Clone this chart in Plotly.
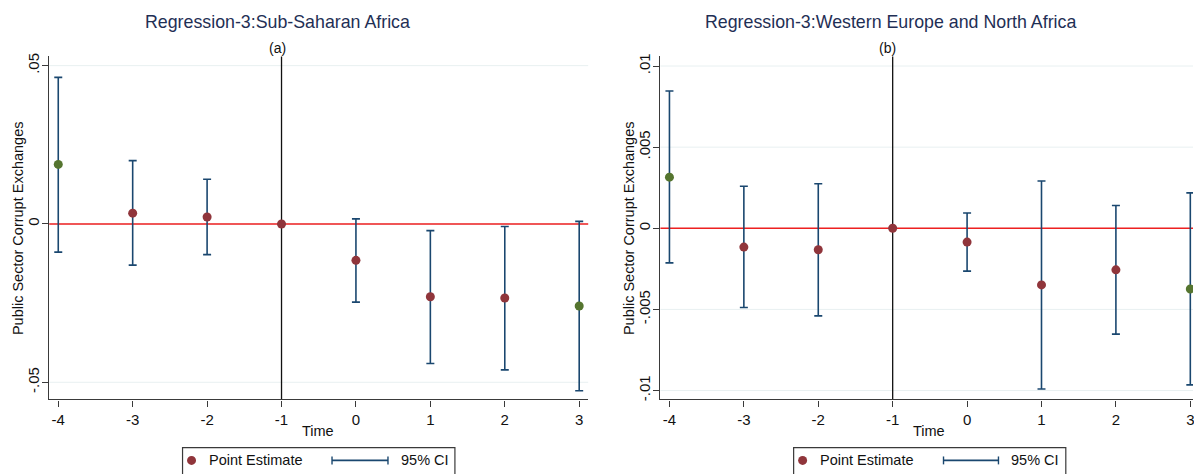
import plotly.graph_objects as go

# Event-study estimates, relative time -4..3 (period -1 is the reference)
periods = [-4, -3, -2, -1, 0, 1, 2, 3]
highlight_periods = [-4, 3]

ssa_est = [0.0188, 0.0034, 0.0022, 0.0, -0.0115, -0.0230, -0.0234, -0.0259]
ssa_lo = [-0.0089, -0.0130, -0.0097, None, -0.0247, -0.0441, -0.0461, -0.0527]
ssa_hi = [0.0463, 0.0200, 0.0141, None, 0.0016, -0.0021, -0.0008, 0.0008]

weu_est = [0.00315, -0.00116, -0.00132, 0.0, -0.00085, -0.00349, -0.00256, -0.00374]
weu_lo = [-0.00213, -0.00488, -0.00540, None, -0.00264, -0.00990, -0.00652, -0.00965]
weu_hi = [0.00846, 0.00259, 0.00274, None, 0.00094, 0.00291, 0.00140, 0.00218]

ssa_ticks = [0.05, 0.0, -0.05]
ssa_ticktext = [".05", "0", "-.05"]
weu_ticks = [0.01, 0.005, 0.0, -0.005, -0.01]
weu_ticktext = [".01", ".005", "0", "-.005", "-.01"]

titles = ["Regression-3:Sub-Saharan Africa", "Regression-3:Western Europe and North Africa"]
subtitles = ["(a)", "(b)"]
y_title = "Public Sector Corrupt Exchanges"
x_title = "Time"
legend_labels = ["Point Estimate", "95% CI"]

NAVY = "#1a476f"
MAROON = "#90353b"
GREEN = "#55752f"
TITLE_BLUE = "#1f2f55"
GRID = "#e8f0f1"
AXIS = "#3a3a3a"
FONT = "Liberation Sans, Arial, Helvetica, sans-serif"

W, H = 1194, 474


def px(x):
    return x / W


def py(y):
    return 1 - y / H


def err_arrays(est, lo, hi):
    up = [None if h is None else h - e for e, h in zip(est, hi)]
    dn = [None if l is None else e - l for e, l in zip(est, lo)]
    return up, dn


point_colors = [GREEN if p in highlight_periods else MAROON for p in periods]

fig = go.Figure()

for i, (est, lo, hi) in enumerate([(ssa_est, ssa_lo, ssa_hi), (weu_est, weu_lo, weu_hi)]):
    up, dn = err_arrays(est, lo, hi)
    fig.add_trace(go.Scatter(
        x=periods, y=est, mode="markers",
        xaxis="x" if i == 0 else "x2", yaxis="y" if i == 0 else "y2",
        marker=dict(color=point_colors, size=9, line=dict(width=0)),
        error_y=dict(type="data", symmetric=False, array=up, arrayminus=dn,
                     color=NAVY, thickness=1.6, width=4),
        showlegend=False, hoverinfo="x+y",
    ))

axis_common = dict(
    showline=True, linecolor=AXIS, linewidth=1.2, ticks="outside", ticklen=6,
    tickcolor=AXIS, tickwidth=1, zeroline=False, mirror=False, showgrid=False,
    tickfont=dict(family=FONT, size=15, color="#111111"),
    ticklabeloverflow="allow",
)

left_x = [49.3, 588.7]
right_x = [661.0, 1194.0]
ydom = [py(400.7), py(54.0)]

fig.update_layout(
    width=W, height=H, autosize=False,
    margin=dict(l=0, r=0, t=0, b=0, pad=0),
    paper_bgcolor="white", plot_bgcolor="white",
    font=dict(family=FONT, color="#111111"),
    showlegend=False,
    xaxis=dict(domain=[px(left_x[0]), px(left_x[1])], range=[-4.121, 3.121],
               tickvals=periods, ticktext=[str(p) for p in periods],
               anchor="y", **axis_common),
    yaxis=dict(domain=ydom, range=[-0.05544, 0.05291], tickvals=ssa_ticks,
               ticktext=ssa_ticktext, tickangle=-90, anchor="x",
               ticklabelstandoff=-3, **axis_common),
    xaxis2=dict(domain=[px(right_x[0]), px(right_x[1])], range=[-4.121, 3.036],
                tickvals=periods, ticktext=[str(p) for p in periods],
                anchor="y2", **axis_common),
    yaxis2=dict(domain=ydom, range=[-0.01055, 0.01059], tickvals=weu_ticks,
                ticktext=weu_ticktext, tickangle=-90, anchor="x2",
                ticklabelstandoff=-3, **axis_common),
)

shapes = []
annotations = []

panel_specs = [
    dict(xref="x", yref="y", ticks=ssa_ticks, title_x=277.5, sub_x=277.7, time_x=318.0,
         ytitle_x=17.5, box=(182.7, 455.3), dot=191.7, pe_text=206.7, ci=(332.3, 388.3),
         ci_text=399.0),
    dict(xref="x2", yref="y2", ticks=weu_ticks, title_x=890.8, sub_x=888.7, time_x=930.0,
         ytitle_x=629.0, box=(794.3, 1066.7), dot=803.3, pe_text=818.3, ci=(944.3, 999.3),
         ci_text=1010.0),
]

for k, s in enumerate(panel_specs):
    xr, yr = s["xref"], s["yref"]
    # Horizontal gridlines at the labelled ticks, then the zero line and omitted period on top
    for t in s["ticks"]:
        shapes.append(dict(type="line", xref=f"{xr} domain", yref=yr, x0=0, x1=1, y0=t, y1=t,
                           line=dict(color=GRID, width=1), layer="below"))
    shapes.append(dict(type="line", xref=f"{xr} domain", yref=yr, x0=0, x1=1, y0=0, y1=0,
                       line=dict(color="#ee2020", width=1.4), layer="below"))
    shapes.append(dict(type="line", xref=xr, yref=f"{yr} domain", x0=-1, x1=-1, y0=0, y1=1,
                       line=dict(color="#111111", width=1.3), layer="below"))

    annotations.append(dict(text=titles[k], xref="paper", yref="paper",
                            x=px(s["title_x"]), y=py(19.5), xanchor="center", yanchor="middle",
                            showarrow=False, font=dict(family=FONT, size=17.8, color=TITLE_BLUE)))
    annotations.append(dict(text=subtitles[k], xref="paper", yref="paper",
                            x=px(s["sub_x"]), y=py(45.0), xanchor="center", yanchor="middle",
                            showarrow=False, font=dict(family=FONT, size=14, color="#111111")))
    annotations.append(dict(text=x_title, xref="paper", yref="paper",
                            x=px(s["time_x"]), y=py(432.5), xanchor="center", yanchor="middle",
                            showarrow=False, font=dict(family=FONT, size=14.5, color="#111111")))
    annotations.append(dict(text=y_title, xref="paper", yref="paper", textangle=-90,
                            x=px(s["ytitle_x"]), y=py(227.0), xanchor="center", yanchor="middle",
                            showarrow=False, font=dict(family=FONT, size=14.5, color="#111111")))

    # Legend panel
    ly = 462.3
    bx0, bx1 = s["box"]
    shapes.append(dict(type="rect", xref="paper", yref="paper", x0=px(bx0), x1=px(bx1),
                       y0=py(482), y1=py(449.3), line=dict(color=AXIS, width=1.2),
                       fillcolor="white", layer="above"))
    shapes.append(dict(type="circle", xref="paper", yref="paper",
                       x0=px(s["dot"] - 4.5), x1=px(s["dot"] + 4.5),
                       y0=py(ly + 4.5), y1=py(ly - 4.5),
                       fillcolor=MAROON, line=dict(width=0), layer="above"))
    cx0, cx1 = s["ci"]
    shapes.append(dict(type="line", xref="paper", yref="paper", x0=px(cx0), x1=px(cx1),
                       y0=py(ly), y1=py(ly), line=dict(color=NAVY, width=1.6), layer="above"))
    for cx in (cx0, cx1):
        shapes.append(dict(type="line", xref="paper", yref="paper", x0=px(cx), x1=px(cx),
                           y0=py(ly - 4), y1=py(ly + 4), line=dict(color=NAVY, width=1.4),
                           layer="above"))
    annotations.append(dict(text=legend_labels[0], xref="paper", yref="paper",
                            x=px(s["pe_text"]), y=py(ly), xanchor="left", yanchor="middle",
                            showarrow=False, font=dict(family=FONT, size=14.5, color="#111111")))
    annotations.append(dict(text=legend_labels[1], xref="paper", yref="paper",
                            x=px(s["ci_text"]), y=py(ly), xanchor="left", yanchor="middle",
                            showarrow=False, font=dict(family=FONT, size=14.5, color="#111111")))

fig.update_layout(shapes=shapes, annotations=annotations)

fig.write_html("out.html")
